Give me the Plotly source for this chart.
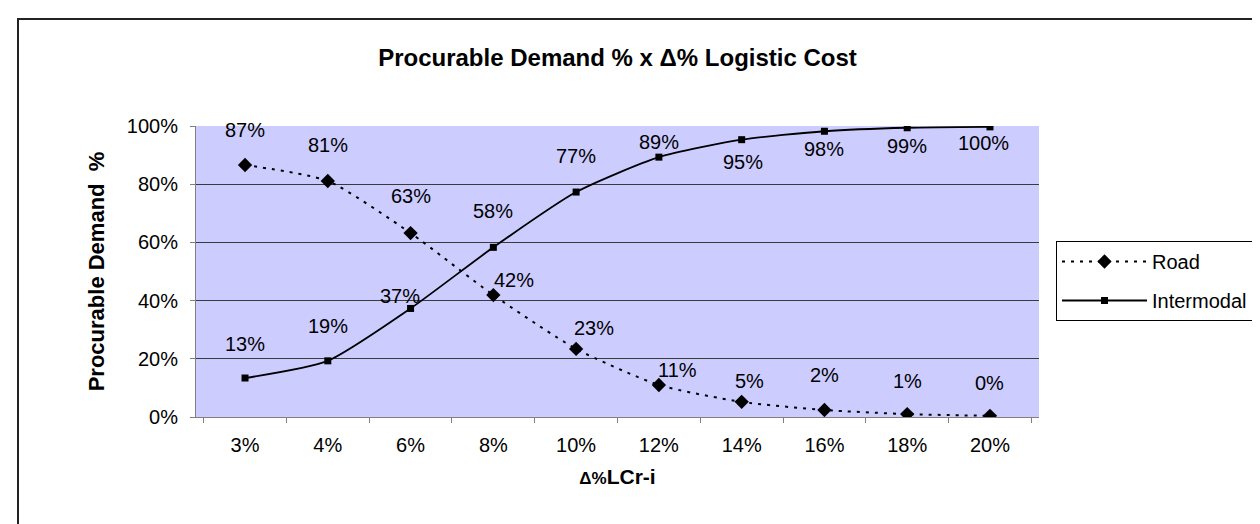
"""Procurable demand vs. logistic cost delta - Excel-style line chart."""

import plotly.graph_objects as go

# ---------------------------------------------------------------------------
# Data
# ---------------------------------------------------------------------------
CATEGORIES = ["3%", "4%", "6%", "8%", "10%", "12%", "14%", "16%", "18%", "20%"]
ROAD = [0.866, 0.811, 0.632, 0.419, 0.234, 0.110, 0.052, 0.024, 0.010, 0.004]
INTERMODAL = [0.134, 0.193, 0.373, 0.583, 0.773, 0.893, 0.953, 0.982, 0.994, 0.997]

# hand-placed data label offsets (px, right / down), as in the original sheet
ROAD_LABEL_OFFSETS = [(0, -35), (0, -36), (0, -37), (21, -15), (18, -21),
                      (19, -15), (8, -21), (0, -35), (0, -33), (0, -33)]
INTERMODAL_LABEL_OFFSETS = [(0, -34), (0, -35), (-11, -12), (0, -36), (0, -36),
                            (0, -15), (1, 22), (0, 18), (0, 18), (-6, 16)]

FONT = "Liberation Sans, Arial, sans-serif"
_BG = "#CCCCFF"
_GRID = "#3a3a3a"
_AXIS = "#808080"


def _labels(values, offsets):
    """Data-label annotations placed next to each point."""
    out = []
    for cat, val, (dx, dy) in zip(CATEGORIES, values, offsets):
        out.append({
            "x": cat, "y": val, "xref": "x", "yref": "y",
            "text": f"{val:.0%}", "showarrow": False,
            "xshift": dx, "yshift": -dy,
            "font": {"size": 20, "color": "black", "family": FONT},
        })
    return out


fig = go.Figure()
fig.add_trace(go.Scatter(
    x=CATEGORIES, y=ROAD, name="Road", mode="lines+markers",
    legendgroup="road",
    line={"color": "black", "width": 2, "dash": "3px,6px", "shape": "spline", "smoothing": 0.6},
    marker={"symbol": "diamond", "size": 11, "color": "black"},
))
fig.add_trace(go.Scatter(
    x=CATEGORIES, y=INTERMODAL, name="Intermodal", mode="lines+markers",
    legendgroup="intermodal",
    line={"color": "black", "width": 1.8, "shape": "spline", "smoothing": 0.6},
    marker={"symbol": "square", "size": 7, "color": "black"},
))

annotations = _labels(ROAD, ROAD_LABEL_OFFSETS) + _labels(INTERMODAL, INTERMODAL_LABEL_OFFSETS)

fig.update_layout(
    width=1260, height=524,
    margin={"l": 188, "r": 229, "t": 118, "b": 115},
    paper_bgcolor="white",
    plot_bgcolor=_BG,
    font={"family": FONT, "size": 20, "color": "black"},
    title={
        "text": "<b>Procurable Demand % x \u0394% Logistic Cost</b>",
        "x": 0.5, "xref": "paper", "xanchor": "center",
        "y": 1 - 50 / 524, "yanchor": "middle",
        "font": {"size": 24, "family": FONT, "color": "black"},
    },
    xaxis={
        "type": "category",
        "showgrid": False,
        "showline": True, "linecolor": _AXIS, "linewidth": 1,
        "ticks": "outside", "tickson": "boundaries", "ticklen": 5, "tickcolor": _AXIS,
        "ticklabelstandoff": 10,
        "tickfont": {"size": 20},
        "title": {
            "text": "<b><span style='font-size:17px'>\u0394%</span>LCr-i</b>",
            "font": {"size": 21}, "standoff": 14,
        },
        "fixedrange": True,
    },
    yaxis={
        "range": [0, 1],
        "tickvals": [0, 0.2, 0.4, 0.6, 0.8, 1.0],
        "tickformat": ".0%",
        "showgrid": True, "gridcolor": _GRID, "gridwidth": 1,
        "zeroline": False,
        "showline": True, "linecolor": _AXIS, "linewidth": 1,
        "ticks": "outside", "ticklen": 5, "tickcolor": _AXIS,
        "ticklabelstandoff": 8,
        "tickfont": {"size": 20},
        "title": {"text": "<b>Procurable Demand  %</b>", "font": {"size": 22}, "standoff": 16},
        "fixedrange": True,
    },
    legend={
        "x": (1048 - 188) / 843, "xanchor": "left",
        "y": (409 - 233) / 291, "yanchor": "top",
        "bgcolor": "white", "bordercolor": "black", "borderwidth": 1,
        "font": {"size": 20, "family": FONT},
        "itemwidth": 85,
        "tracegroupgap": 10,
        "traceorder": "grouped",
    },
    showlegend=True,
    annotations=annotations,
    shapes=[{
        # outer chart frame
        "type": "rect", "xref": "paper", "yref": "paper",
        "x0": (10 - 188) / 843, "x1": (1259 - 188) / 843,
        "y0": -0.6, "y1": (409 - 11) / 291,
        "line": {"color": "#222222", "width": 2},
        "layer": "below",
    }],
)

fig.write_html("out.html")
